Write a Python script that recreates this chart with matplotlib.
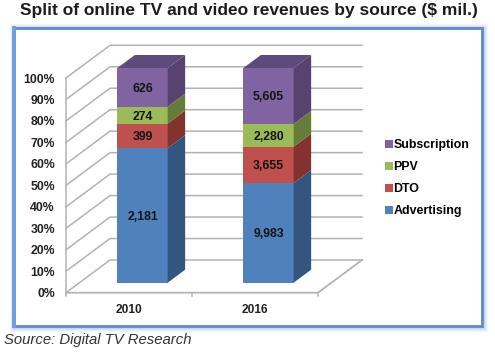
import matplotlib
matplotlib.use("Agg")
import matplotlib.pyplot as plt
from matplotlib.patches import Polygon, Rectangle
import numpy as np

# datos del grafico
years = ["2010", "2016"]
sources = ["Advertising", "DTO", "PPV", "Subscription"]
advertising = [2181, 9983]
dto = [399, 3655]
ppv = [274, 2280]
subscription = [626, 5605]
yticks = [0, 10, 20, 30, 40, 50, 60, 70, 80, 90, 100]

front_colors = ["#4f81bd", "#c0504d", "#9bbb59", "#8064a2"]
side_colors = ["#34557f", "#82322f", "#667d39", "#574270"]
top_color = "#5f4a7d"
grid_color = "#b3b3b3"

W, H = 495, 356
plt.rcParams["font.family"] = ["Liberation Sans", "DejaVu Sans"]
fig = plt.figure(figsize=(W / 100, H / 100), dpi=100)

# marco azul con halo, en pixeles de la figura
bg = fig.add_axes([0, 0, 1, 1])
bg.set_xlim(0, W)
bg.set_ylim(H, 0)
bg.axis("off")
for grow, alpha in [(5, 0.12), (4, 0.16), (3, 0.22), (2, 0.3)]:
    bg.add_patch(Rectangle((14 - grow + 1, 28 - grow + 1), 468 + 2 * grow, 298 + 2 * grow,
                           fc="#9dc0f0", ec="none", alpha=alpha))
bg.add_patch(Rectangle((14, 28), 468, 298, fc="white", ec="#5f8bc6", lw=2))
bg.plot([14, 14], [28, 326], color="#6f9fe0", lw=2.8)

# ejes: plano frontal del grafico
left, right, y0, y100 = 66, 318, 292.7, 78
ax = fig.add_axes([left / W, 1 - y0 / H, (right - left) / W, (y0 - y100) / H])
ax.set_xlim(0, 2)
ax.set_ylim(0, 100)
ax.patch.set_alpha(0)
for s in ax.spines.values():
    s.set_visible(False)

# conversion de pixeles a unidades de datos para la profundidad
ux = 2 / (right - left)
uy = 100 / (y0 - y100)
wall_dx, wall_dy = 44 * ux, 32.7 * uy
bar_dx0, bar_dy0 = 13.5 * ux, 10 * uy
bar_dx, bar_dy = 17.5 * ux, 13 * uy
bar_w = 50.3 * ux

# paredes y piso
for t in yticks:
    ax.plot([0, wall_dx, 2 + wall_dx], [t, t + wall_dy, t + wall_dy],
            color=grid_color, lw=1.1, clip_on=False, zorder=1)
ax.plot([0, 0], [0, 100], color=grid_color, lw=1.1, clip_on=False, zorder=1)
ax.plot([0, 2, 2 + wall_dx], [0, 0, wall_dy], color=grid_color, lw=1.3,
        clip_on=False, zorder=1)
for xt in [0, 1, 2]:
    ax.plot([xt, xt], [0, -1.6], color=grid_color, lw=1.1, clip_on=False, zorder=1)

# barras apiladas al 100%
series = np.array([advertising, dto, ppv, subscription], dtype=float)
shares = series / series.sum(axis=0) * 100
for j in range(len(years)):
    x0 = j + 0.5 + bar_dx0 - bar_w / 2
    x1 = x0 + bar_w
    bottom = bar_dy0
    for i in range(len(sources)):
        h = shares[i, j]
        ax.add_patch(Rectangle((x0, bottom), bar_w, h, fc=front_colors[i], ec="none",
                               clip_on=False, zorder=3))
        ax.add_patch(Polygon([(x1, bottom), (x1 + bar_dx, bottom + bar_dy),
                              (x1 + bar_dx, bottom + h + bar_dy), (x1, bottom + h)],
                             fc=side_colors[i], ec="none", clip_on=False, zorder=3))
        ax.text((x0 + x1) / 2, bottom + h / 2, f"{int(series[i, j]):,}", ha="center",
                va="center_baseline", fontsize=8.8, fontweight="bold", color="#141414", zorder=4)
        bottom += h
    ax.add_patch(Polygon([(x0, bottom), (x1, bottom), (x1 + bar_dx, bottom + bar_dy),
                          (x0 + bar_dx, bottom + bar_dy)], fc=top_color, ec="none",
                         clip_on=False, zorder=3))

ax.set_yticks(yticks)
ax.set_yticklabels([f"{t}%" for t in yticks], fontsize=8.8, fontweight="bold", color="#222222",
                   va="center_baseline")
ax.set_xticks([0.5, 1.5])
ax.set_xticklabels(years, fontsize=8.6, fontweight="bold", color="#222222")
ax.tick_params(axis="both", length=0)
ax.tick_params(axis="y", pad=8)
ax.tick_params(axis="x", pad=8)

# leyenda
handles = [Rectangle((0, 0), 1, 1, fc=c, ec="none") for c in front_colors[::-1]]
fig.legend(handles, sources[::-1], loc="upper left", bbox_to_anchor=(385 / W, 1 - 139 / H),
           frameon=False, prop={"weight": "bold", "size": 8.9},
           handlelength=0.62, handleheight=0.62, handletextpad=0.05, labelspacing=0.82,
           borderpad=0, borderaxespad=0)

# titulo y fuente
bg.text(248.5, 11, "Split of online TV and video revenues by source ($ mil.)", ha="center",
        va="center", fontsize=12.5, fontweight="bold", color="#1c1c1c")
bg.text(4, 340, "Source: Digital TV Research", ha="left", va="center", fontsize=10.7,
        style="italic", color="#333333")

fig.savefig("out.png", dpi=100)
